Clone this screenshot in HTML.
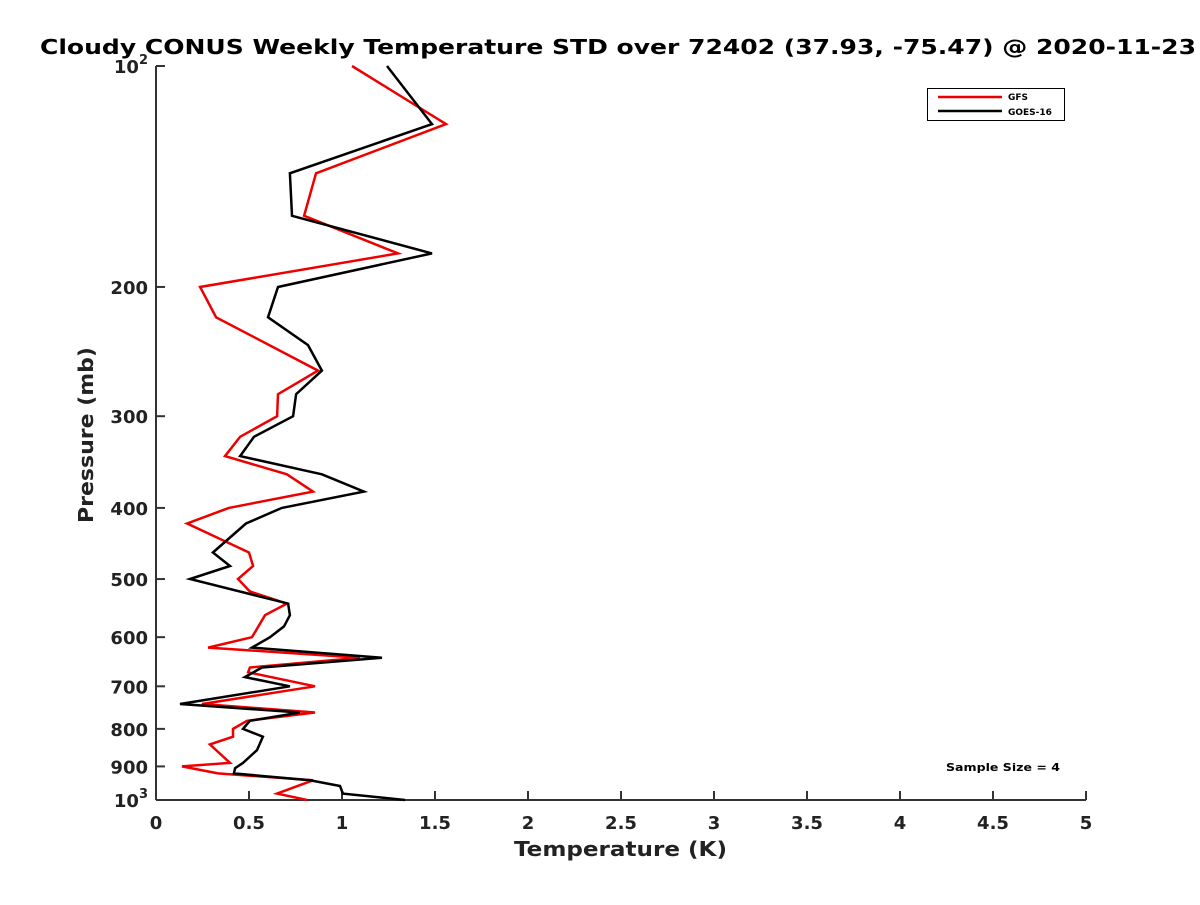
<!DOCTYPE html>
<html><head><meta charset="utf-8"><style>
body{margin:0;background:#fff}
svg{font-family:"DejaVu Sans","Liberation Sans",sans-serif;font-weight:bold}
</style></head><body>
<svg id="chart" width="1200" height="900" viewBox="0 0 1200 900">
<rect width="1200" height="900" fill="#fff"/>
<text x="40" y="54" font-size="20" textLength="1156" lengthAdjust="spacingAndGlyphs" fill="#000">Cloudy CONUS Weekly Temperature STD over 72402 (37.93, -75.47) @ 2020-11-23</text>
<g id="axes"></g>
<g id="series"></g>
<g>
<rect x="927.5" y="88.5" width="137" height="32" fill="#fff" stroke="#000" stroke-width="1"/>
<line x1="938" y1="97" x2="1002" y2="97" stroke="#e00" stroke-width="2.5"/>
<text x="1008" y="100" font-size="9">GFS</text>
<line x1="938" y1="111" x2="1002" y2="111" stroke="#000" stroke-width="2.5"/>
<text x="1008" y="115" font-size="9">GOES-16</text>
</g>
<text x="946" y="771" font-size="11" textLength="114" lengthAdjust="spacingAndGlyphs">Sample Size = 4</text>
<text x="514" y="856" font-size="20" textLength="213" lengthAdjust="spacingAndGlyphs" fill="#222">Temperature (K)</text>
<text transform="translate(93,523) rotate(-90)" font-size="20" textLength="176" lengthAdjust="spacingAndGlyphs" fill="#222">Pressure (mb)</text>
</svg>
<script>
const gfsTemp=[1.054,1.559,0.860,0.796,1.301,0.237,0.323,0.871,0.656,0.651,0.452,0.371,0.704,0.844,0.392,0.167,0.500,0.522,0.441,0.505,0.704,0.586,0.516,0.280,1.097,0.505,0.495,0.855,0.247,0.855,0.489,0.414,0.414,0.290,0.398,0.140,0.333,0.844,0.651,0.812];
const gfsPres=[100,120,140,160,180,200,220,260,280,300,320,340,360,380,400,420,460,480,500,520,540,560,600,620,640,660,670,700,740,760,780,800,820,840,890,900,920,940,980,1000];
const goesTemp=[1.242,1.484,0.720,0.731,1.484,0.656,0.602,0.817,0.892,0.753,0.737,0.527,0.452,0.892,1.118,0.677,0.484,0.306,0.398,0.183,0.710,0.720,0.688,0.613,0.516,1.215,0.570,0.478,0.720,0.129,0.774,0.505,0.468,0.575,0.543,0.468,0.425,0.419,0.828,0.989,1.005,1.339];
const goesPres=[100,120,140,160,180,200,220,240,260,280,300,320,340,360,380,400,420,460,480,500,540,560,580,600,620,640,660,680,700,740,760,780,800,820,855,890,905,920,940,957,980,1000];
const xTicks=[0,0.5,1,1.5,2,2.5,3,3.5,4,4.5,5];
const xTickLabels=["0","0.5","1","1.5","2","2.5","3","3.5","4","4.5","5"];
const yTicks=[200,300,400,500,600,700,800,900];
const X0=156,X1=1086,Y0=66,Y1=800;
const xs=v=>X0+(v-0)/(5-0)*(X1-X0);
const ys=p=>Y0+(Math.log10(p)-2)*(Y1-Y0);
const NS="http://www.w3.org/2000/svg";
function mk(t,a,parent){const e=document.createElementNS(NS,t);for(const k in a)e.setAttribute(k,a[k]);parent.appendChild(e);return e;}
const ax=document.getElementById('axes');
const yl=mk('line',{x1:X0,y1:Y0,x2:X0,y2:Y1,stroke:'#333','stroke-width':2},ax);


const xl=mk('line',{x1:X0,y1:Y1,x2:X1,y2:Y1,stroke:'#333','stroke-width':2},ax);


xTicks.forEach((v,i)=>{
 const x=xs(v);
 const t=mk('line',{x1:x,y1:Y1,x2:x,y2:Y1-9,stroke:'#333','stroke-width':2},ax);
 
 
 const l=mk('text',{x:x,y:Y1+29,'font-size':18,'text-anchor':'middle',fill:'#222'},ax);
 l.textContent=xTickLabels[i];
 
 
});
const allY=[100].concat(yTicks).concat([1000]);
allY.forEach(p=>{
 const y=ys(p);
 const t=mk('line',{x1:X0,y1:y,x2:X0+9,y2:y,stroke:'#333','stroke-width':2},ax);
 
 
 const l=mk('text',{x:X0-8,y:y+7,'font-size':18,'text-anchor':'end',fill:'#222'},ax);
 if(p===100||p===1000){l.textContent='10';const s=mk('tspan',{dy:-9,'font-size':13},l);s.textContent=p===100?'2':'3';}
 else l.textContent=String(p);
 
 
});
const sg=document.getElementById('series');
function line(T,P,col,name){
 const pts=T.map((v,i)=>xs(v).toFixed(1)+','+ys(P[i]).toFixed(1)).join(' ');
 const e=mk('polyline',{points:pts,fill:'none',stroke:col,'stroke-width':2.5,'stroke-linejoin':'miter'},sg);
 
 
}
line(gfsTemp,gfsPres,'#e00','gfs-line');
line(goesTemp,goesPres,'#000','goes16-line');
</script>
</body></html>
